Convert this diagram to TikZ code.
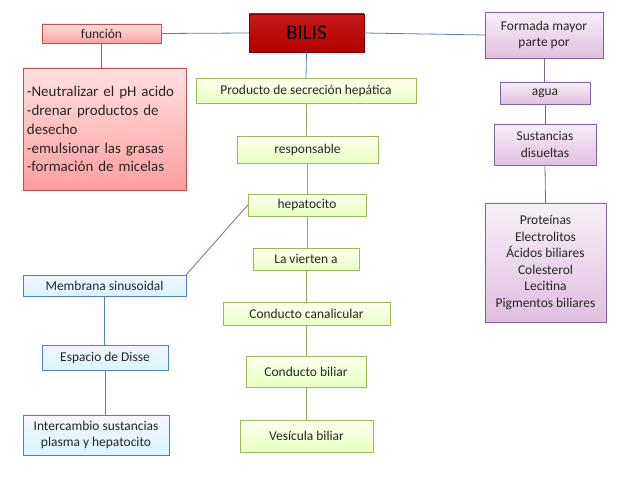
\documentclass[tikz,border=0pt]{standalone}
\usepackage{fontspec}
\setmainfont{Carlito}
\definecolor{gb}{HTML}{9BBB59}\definecolor{bb}{HTML}{4F81BD}\definecolor{pb}{HTML}{8064A2}\definecolor{rb}{HTML}{C0504D}
\begin{document}
\begin{tikzpicture}[x=1bp,y=-1bp,
 base/.style={draw,inner sep=2pt,align=center,font=\fontsize{13.5}{16.5}\selectfont,text=black!85},
 gbox/.style={base,draw=gb,top color=green!6!yellow!6!white,bottom color=green!35!yellow!25!white},
 bbox/.style={base,draw=bb,top color=blue!4,bottom color=blue!25!cyan!15},
 pbox/.style={base,draw=pb,top color=violet!6,bottom color=violet!25},
 rbox/.style={base,draw=rb,top color=red!12,bottom color=red!38},
 gl/.style={draw=gb!80!gray,line width=0.8pt},
 bl/.style={draw=bb!90!gray,line width=0.8pt},
 pl/.style={draw=pb,line width=0.8pt},
 rl/.style={draw=rb,line width=0.8pt}]
\useasboundingbox (0,0) rectangle (638,479);
\node[rbox,minimum width=119bp,minimum height=19bp] (fun) at (101.5,33.5) {función};
\node[rbox,top color=red!75!black!90,bottom color=red!70!black,draw=red!50!black,minimum width=115bp,minimum height=38bp,font=\fontsize{21}{24}\selectfont,text=black] (bilis) at (306.5,33) {BILIS};
\node[pbox,minimum width=118bp,minimum height=46bp] (form) at (544,35) {Formada mayor\\parte por};
\node[rbox,minimum width=163bp,minimum height=122bp,align=left,text width=155bp,font=\fontsize{15}{19}\selectfont] (fx) at (104.5,129) {-Neutralizar el pH acido\\-drenar productos de\\desecho\\-emulsionar las grasas\\-formación de micelas};
\node[gbox,minimum width=220bp,minimum height=25bp] (prod) at (306,90.5) {Producto de secreción hepática};
\node[pbox,minimum width=90bp,minimum height=22bp] (agua) at (545,93) {agua};
\node[gbox,minimum width=141bp,minimum height=27bp] (resp) at (307.5,149.5) {responsable};
\node[pbox,minimum width=102bp,minimum height=41bp] (sust) at (545,144.5) {Sustancias\\disueltas};
\node[gbox,minimum width=118bp,minimum height=22bp] (hep) at (307,205) {hepatocito};
\node[pbox,minimum width=121bp,minimum height=119bp] (prot) at (545.5,262.5) {Proteínas\\Electrolitos\\Ácidos biliares\\Colesterol\\Lecitina\\Pigmentos biliares};
\node[gbox,minimum width=106bp,minimum height=22bp] (lav) at (306,259) {La vierten a};
\node[bbox,minimum width=163bp,minimum height=21bp] (mem) at (104.5,285.5) {Membrana sinusoidal};
\node[gbox,minimum width=167bp,minimum height=23bp] (cc) at (306.5,313.5) {Conducto canalicular};
\node[bbox,minimum width=126bp,minimum height=25bp] (disse) at (105,357.5) {Espacio de Disse};
\node[gbox,minimum width=120bp,minimum height=31bp] (cb) at (306,371.5) {Conducto biliar};
\node[bbox,minimum width=146bp,minimum height=40bp] (int) at (96,435) {Intercambio sustancias\\plasma y hepatocito};
\node[gbox,minimum width=133bp,minimum height=32bp] (ves) at (306.5,436) {Vesícula biliar};
\draw[bl] (fun.east) -- (bilis.west);
\draw[bl] (bilis.east) -- (form.west);
\draw[rl] (fun.south) -- (fx.north-|fun.south);
\draw[bl] (bilis.south) -- (prod.north);
\draw[gl] (prod.south) -- (resp.north-|prod.south);
\draw[gl] (resp.south-|hep.north) -- (hep.north);
\draw[gl] (hep.south) -- (lav.north-|hep.south);
\draw[gl] (lav.south) -- (cc.north-|lav.south);
\draw[gl] (cc.south-|cb.north) -- (cb.north);
\draw[gl] (cb.south) -- (ves.north-|cb.south);
\draw[pl] (hep.west) -- (mem.north east);
\draw[bl] (mem.south) -- (disse.north-|mem.south);
\draw[bl] (disse.south) -- (int.north-|disse.south);
\draw[pl] (form.south) -- (agua.north-|form.south);
\draw[pl] (agua.south) -- (sust.north);
\draw[pl] (sust.south) -- (prot.north);
\end{tikzpicture}
\end{document}
